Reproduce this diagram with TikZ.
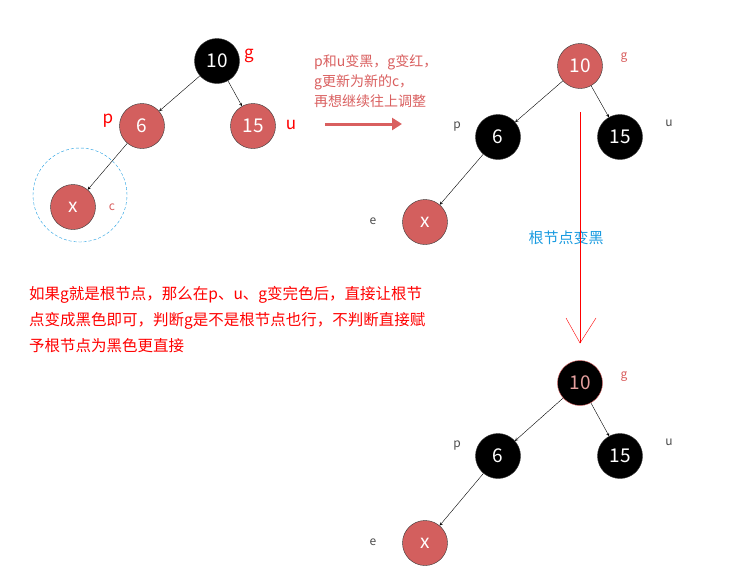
\documentclass[tikz,border=0pt]{standalone}
\usepackage{fontspec}
\usetikzlibrary{arrows.meta}
\setmainfont{Noto Sans CJK SC}
\begin{document}
\begin{tikzpicture}[x=1pt,y=-1pt,
  rn/.style={circle,draw=black!80,fill=nred,minimum size=45pt,inner sep=0,text=white,font=\fontsize{19}{19}\selectfont},
  bn/.style={rn,fill=black},
  ar/.style={->,>=stealth,black,thin},
  lab/.style={font=\fontsize{12}{12}\selectfont,text=black!70}]
\definecolor{nred}{HTML}{D35F5E}
\definecolor{tred}{HTML}{D95F5F}
\definecolor{cblue}{HTML}{1A9BE0}
\useasboundingbox (0,0) rectangle (730,573);
% tree 1
\node[bn] (a10) at (217,61) {10};
\node[rn] (a6) at (142,126) {6};
\node[rn] (a15) at (253,126) {15};
\node[rn] (ax) at (73,207) {x};
\draw[ar] (a10) -- (a6); \draw[ar] (a10) -- (a15); \draw[ar] (a6) -- (ax);
\node[circle,draw=cblue,densely dashed,minimum size=94pt] (ring) at (80,195) {};
\node[text=red,font=\fontsize{17}{17}\selectfont] (lg) at (249,56) {g};
\node[text=red,font=\fontsize{17}{17}\selectfont] (lp) at (108,121) {p};
\node[text=red,font=\fontsize{17}{17}\selectfont] (lu) at (291,125) {u};
\node[text=tred,font=\fontsize{12}{12}\selectfont] (lc) at (112,207) {c};
% text and arrow
\node[text=tred,align=left,anchor=north west,font=\fontsize{14}{20}\selectfont,inner sep=0] (t1) at (314,54) {p和u变黑，g变红，\\g更新为新的c，\\再想继续往上调整};
\coordinate (s1) at (325,124); \coordinate (s2) at (402,124);
\draw[tred,line width=3pt,-{Triangle[length=10pt,width=12pt]}] (s1) -- (s2);
% tree 2
\node[rn] (b10) at (580,66) {10};
\node[bn] (b6) at (498,137) {6};
\node[bn] (b15) at (620,137) {15};
\node[rn] (bx) at (425,222) {x};
\draw[ar] (b10) -- (b6); \draw[ar] (b10) -- (b15); \draw[ar] (b6) -- (bx);
\node[text=tred,font=\fontsize{12}{12}\selectfont] (bg) at (624,58) {g};
\node[lab] (bp) at (457,127) {p};
\node[lab] (bu) at (669,123) {u};
\node[lab] (be) at (373,221) {e};
\node[text=cblue,font=\fontsize{15}{15}\selectfont] (mid) at (566,238) {根节点变黑};
\coordinate (v1) at (580,112); \coordinate (v2) at (580,343);
\draw[red,thin] (v1) -- (v2);
\draw[red,thin] (566,318) -- (v2) -- (596,318);
% tree 3
\node[bn,draw=tred] (c10) at (580,383) {\textcolor{nred!60!white}{10}};
\node[bn] (c6) at (498,456) {6};
\node[bn] (c15) at (620,456) {15};
\node[rn] (cx) at (425,543) {x};
\draw[ar] (c10) -- (c6); \draw[ar] (c10) -- (c15); \draw[ar] (c6) -- (cx);
\node[text=tred,font=\fontsize{12}{12}\selectfont] (cg) at (624,377) {g};
\node[lab] (cp) at (457,446) {p};
\node[lab] (cu) at (669,442) {u};
\node[lab] (ce) at (373,542) {e};
% red text
\node[text=red,align=left,anchor=north west,font=\fontsize{15.5}{26}\selectfont,inner sep=0] (note) at (29,286) {如果g就是根节点，那么在p、u、g变完色后，直接让根节\\点变成黑色即可，判断g是不是根节点也行，不判断直接赋\\予根节点为黑色更直接};
\end{tikzpicture}
\end{document}
